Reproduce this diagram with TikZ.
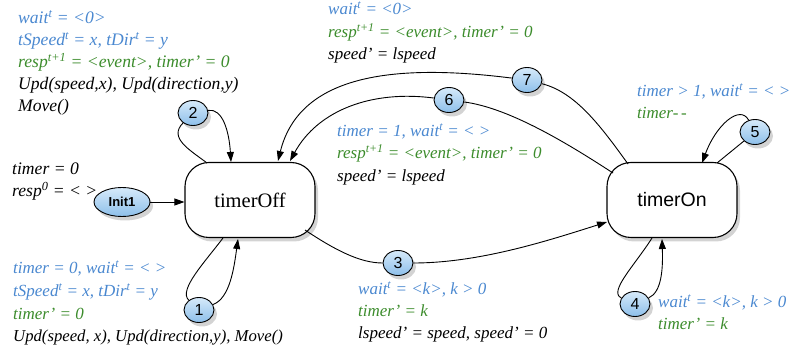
\documentclass[tikz,border=0pt]{standalone}
\usepackage{fontspec}
\setmainfont{Liberation Serif}
\setsansfont{Liberation Sans}
\usetikzlibrary{arrows.meta,shadows,shapes.geometric}
\definecolor{cblue}{HTML}{4A88D0}
\definecolor{cgreen}{HTML}{3C8C2C}
\definecolor{bubtop}{HTML}{D6EAFA}
\definecolor{bubbot}{HTML}{8DBFEA}
\tikzset{
  lbl/.style={anchor=base west, inner sep=0pt, font=\itshape\fontsize{17}{20}\selectfont},
  big/.style={font=\itshape\fontsize{17.6}{20}\selectfont},
  long/.style={font=\itshape\fontsize{16.7}{20}\selectfont},
  state/.style={draw, line width=1.1pt, rounded corners=24pt, minimum width=130pt, minimum height=75pt, fill=white,
     drop shadow={shadow xshift=3pt, shadow yshift=-4pt, opacity=0.35}},
  bub/.style={ellipse, draw, line width=0.9pt, minimum width=30pt, minimum height=25pt, inner sep=0pt,
     top color=bubtop, bottom color=bubbot, font=\sffamily\fontsize{16}{16}\selectfont,
     drop shadow={shadow xshift=3pt, shadow yshift=-4pt, opacity=0.35}},
  edge/.style={line width=0.9pt},
  arr/.style={line width=0.9pt, -{Triangle[length=10pt,width=7pt]}},
}
\begin{document}
\begin{tikzpicture}[x=1pt,y=-1pt]
\useasboundingbox (0,0) rectangle (790,352);
% states
\node[state, font=\fontsize{20.5}{20.5}\selectfont] (off) at (250,200) {timerOff};
\node[state, font=\sffamily\fontsize{19.5}{19.5}\selectfont] (on) at (672,200) {timerOn};
\node[bub, minimum width=56pt, minimum height=29pt, font=\sffamily\bfseries\fontsize{13}{13}\selectfont] (init) at (122,202) {Init1};
% bubbles
\node[bub] (n1) at (199,310) {1};
\node[bub] (n2) at (193,113) {2};
\node[bub] (n3) at (398,263) {3};
\node[bub] (n4) at (635,304) {4};
\node[bub] (n5) at (755,132) {5};
\node[bub] (n6) at (449,100) {6};
\node[bub] (n7) at (527,80) {7};
% coordinates on the boxes
\coordinate (o2s) at (207,163);
\coordinate (o2e) at (231,162);
\coordinate (o1s) at (223,238);
\coordinate (o1e) at (238,239);
\coordinate (o3s) at (305,230);
\coordinate (on3) at (607,222);
\coordinate (on4s) at (652,238);
\coordinate (on4e) at (662,239);
\coordinate (on5s) at (717,163);
\coordinate (on5e) at (702,163);
\coordinate (on6s) at (613,173);
\coordinate (o6e) at (290,161);
\coordinate (on7s) at (628,164);
\coordinate (o7e) at (278,161);
% connectors
\draw[arr] (init) -- (off.west |- init);
\draw[edge] (o2s) .. controls (190,150) and (168,138) .. (n2);
\draw[arr] (n2) .. controls (222,108) and (229,130) .. (o2e);
\draw[edge] (o1s) .. controls (205,262) and (178,290) .. (n1);
\draw[arr] (n1) .. controls (230,298) and (234,268) .. (o1e);
\draw[edge] (o3s) .. controls (335,250) and (360,263) .. (n3);
\draw[arr] (n3) .. controls (480,263) and (550,240) .. (on3);
\draw[edge] (on4s) .. controls (635,265) and (608,292) .. (n4);
\draw[arr] (n4) .. controls (662,292) and (663,268) .. (on4e);
\draw[edge] (on5s) -- (n5);
\draw[arr] (n5) .. controls (740,104) and (716,125) .. (on5e);
\draw[edge] (on6s) .. controls (570,145) and (510,108) .. (n6);
\draw[arr] (n6) .. controls (372,90) and (318,110) .. (o6e);
\draw[edge] (on7s) .. controls (600,125) and (575,92) .. (n7);
\draw[arr] (n7) .. controls (400,64) and (300,72) .. (o7e);
% labels
\node[lbl, big, cblue] (t1) at (18,24) {wait\textsuperscript{t} = <0>};
\node[lbl, big, cblue] (t2) at (18,46) {tSpeed\textsuperscript{t} = x, tDir\textsuperscript{t} = y};
\node[lbl, big, cgreen] (t3) at (18,68) {resp\textsuperscript{t+1} = <event>, timer' = 0};
\node[lbl, big] (t4) at (18,90) {Upd(speed,x), Upd(direction,y)};
\node[lbl, big] (t5) at (18,112) {Move()};
\node[lbl, big] (i1) at (12,175) {timer = 0};
\node[lbl, big] (i2) at (12,197) {resp\textsuperscript{0} = <~>};
\node[lbl, cblue] (b1) at (13,274) {timer = 0, wait\textsuperscript{t} = <~>};
\node[lbl, cblue] (b2) at (13,297) {tSpeed\textsuperscript{t} = x, tDir\textsuperscript{t} = y};
\node[lbl, cgreen] (b3) at (13,320) {timer' = 0};
\node[lbl, long] (b4) at (13,342) {Upd(speed, x), Upd(direction,y), Move()};
\node[lbl, cblue] (m1) at (328,15) {wait\textsuperscript{t} = <0>};
\node[lbl, cgreen] (m2) at (328,38) {resp\textsuperscript{t+1} = <event>, timer' = 0};
\node[lbl] (m3) at (328,60) {speed' = lspeed};
\node[lbl, cblue] (c1) at (337,137) {timer = 1, wait\textsuperscript{t} = <~>};
\node[lbl, cgreen] (c2) at (337,159) {resp\textsuperscript{t+1} = <event>, timer' = 0};
\node[lbl] (c3) at (337,182) {speed' = lspeed};
\node[lbl, cblue] (r1) at (637,97) {timer > 1, wait\textsuperscript{t} = <~>};
\node[lbl, cgreen] (r2) at (637,119) {timer-\,-};
\node[lbl, cblue] (d1) at (358,295) {wait\textsuperscript{t} = <k>, k > 0};
\node[lbl, cgreen] (d2) at (358,317) {timer' = k};
\node[lbl] (d3) at (358,339) {lspeed' = speed, speed' = 0};
\node[lbl, cblue] (e1) at (658,308) {wait\textsuperscript{t} = <k>, k > 0};
\node[lbl, cgreen] (e2) at (658,330) {timer' = k};
\end{tikzpicture}
\end{document}
